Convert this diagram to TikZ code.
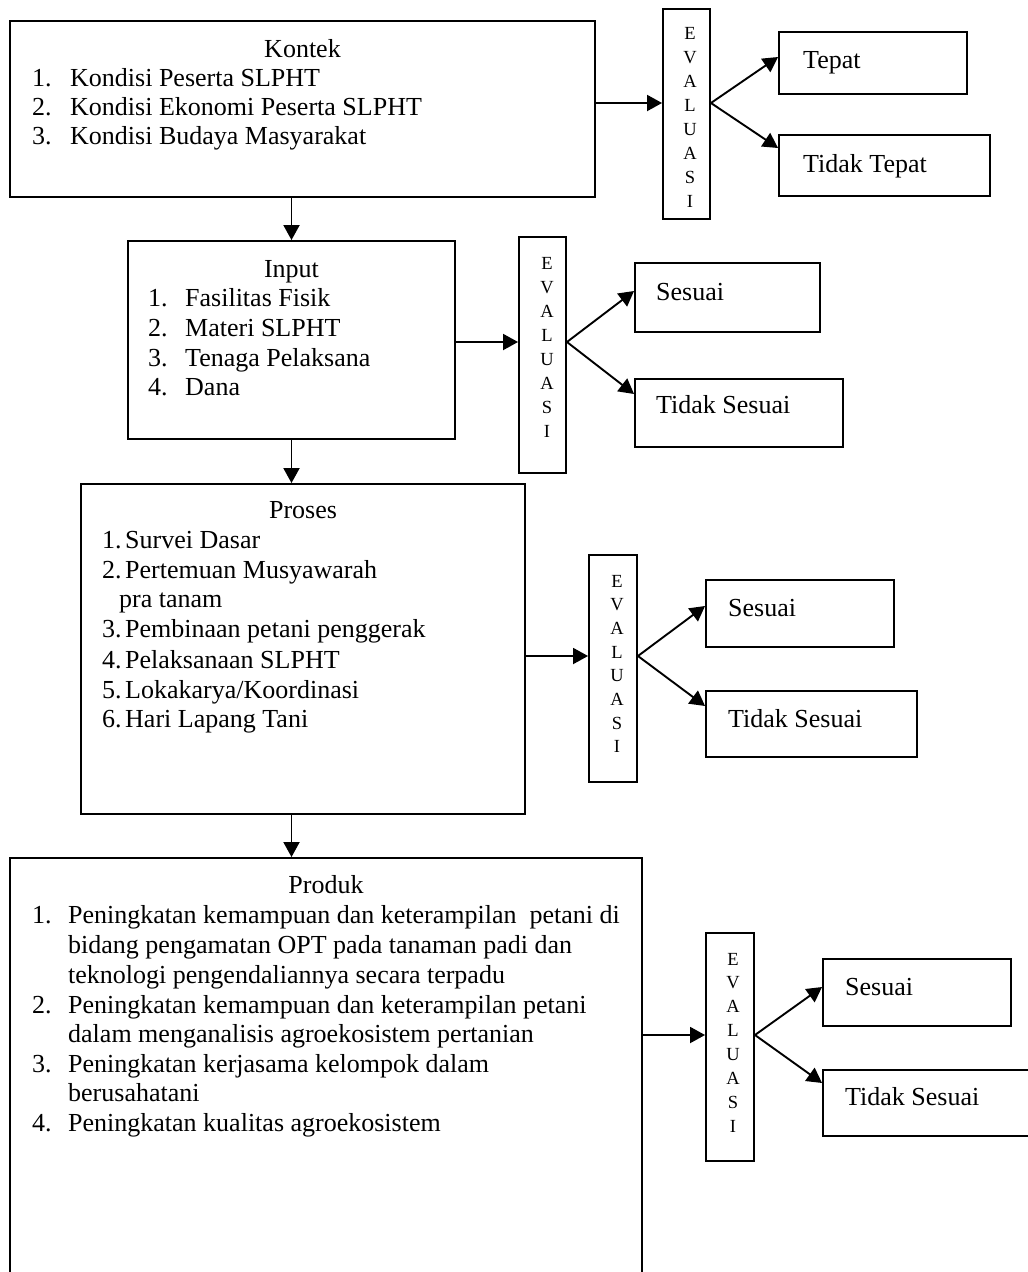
\documentclass[tikz,border=0pt]{standalone}
\usepackage{fontspec}
\setmainfont{Liberation Serif}
\usetikzlibrary{arrows.meta}
\begin{document}
\begin{tikzpicture}[x=1pt,y=-1pt,
  box/.style={draw,line width=1.9pt,inner sep=0pt,rectangle},
  txt/.style={inner sep=0pt,anchor=base west,font=\fontsize{26}{30}\selectfont},
  ttl/.style={inner sep=0pt,anchor=base,font=\fontsize{26}{30}\selectfont},
  evl/.style={inner sep=0pt,anchor=base,font=\fontsize{18.5}{24}\selectfont},
  arr/.style={line width=1.9pt,-{Triangle[length=15pt,width=16pt]}}]
\useasboundingbox (0,0) rectangle (1028,1272);
% boxes
\node[box,minimum width=585pt,minimum height=176pt] (kontek) at (302.5,109) {};
\node[box,minimum width=47pt,minimum height=210pt] (eval1) at (686.5,114) {};
\node[box,minimum width=188pt,minimum height=62pt] (tepat) at (873,63) {};
\node[box,minimum width=211pt,minimum height=61pt] (tidaktepat) at (884.5,165.5) {};
\node[box,minimum width=327pt,minimum height=198pt] (input) at (291.5,340) {};
\node[box,minimum width=47pt,minimum height=236pt] (eval2) at (542.5,355) {};
\node[box,minimum width=185pt,minimum height=69pt] (sesuai2) at (727.5,297.5) {};
\node[box,minimum width=208pt,minimum height=68pt] (tsesuai2) at (739,413) {};
\node[box,minimum width=444pt,minimum height=330pt] (proses) at (303,649) {};
\node[box,minimum width=48pt,minimum height=227pt] (eval3) at (613,668.5) {};
\node[box,minimum width=188pt,minimum height=67pt] (sesuai3) at (800,613.5) {};
\node[box,minimum width=211pt,minimum height=66pt] (tsesuai3) at (811.5,724) {};
\node[box,minimum width=632pt,minimum height=422pt] (produk) at (326,1069) {};
\node[box,minimum width=48pt,minimum height=228pt] (eval4) at (730,1047) {};
\node[box,minimum width=188pt,minimum height=67pt] (sesuai4) at (917,992.5) {};
\node[box,minimum width=217pt,minimum height=66pt] (tsesuai4) at (931.5,1103) {};
% EVALUASI letters
\foreach \l [count=\i from 0] in {E,V,A,L,U,A,S,I} {
  \node[evl] (ea\i) at (690,39+24.1*\i) {\l};
  \node[evl] (eb\i) at (547,269+24.1*\i) {\l};
  \node[evl] (ec\i) at (617,587+23.7*\i) {\l};
  \node[evl] (ed\i) at (733,965+23.9*\i) {\l};
}
% Kontek text
\node[ttl] (kt) at (302.5,57) {Kontek};
\foreach \n/\t/\y in {1/Kondisi Peserta SLPHT/86, 2/Kondisi Ekonomi Peserta SLPHT/115, 3/Kondisi Budaya Masyarakat/144} {
  \node[txt] (kn\n) at (32,\y) {\n.};
  \node[txt] (kx\n) at (70,\y) {\t};
}
% Input text
\node[ttl] (it) at (291.5,277) {Input};
\foreach \n/\t/\y in {1/Fasilitas Fisik/306, 2/Materi SLPHT/336, 3/Tenaga Pelaksana/366, 4/Dana/395} {
  \node[txt] (in\n) at (148,\y) {\n.};
  \node[txt] (ix\n) at (185,\y) {\t};
}
% Proses text
\node[ttl] (pt) at (303,518) {Proses};
\foreach \n/\t/\y in {1/Survei Dasar/548, 2/Pertemuan Musyawarah/578, 3/Pembinaan petani penggerak/637, 4/Pelaksanaan SLPHT/668, 5/Lokakarya\slash Koordinasi/698, 6/Hari Lapang Tani/727} {
  \node[txt] (pn\n) at (102,\y) {\n.};
  \node[txt] (px\n) at (125,\y) {\t};
}
\node[txt] (px2b) at (119,607) {pra tanam};
% Produk text
\node[ttl] (rt) at (326,893) {Produk};
\node[txt] (rn1) at (32,923) {1.};
\node[txt] (rx1) at (68,923) {Peningkatan kemampuan dan keterampilan \ petani di};
\node[txt] (rx1b) at (68,953) {bidang pengamatan OPT pada tanaman padi dan};
\node[txt] (rx1c) at (68,983) {teknologi pengendaliannya secara terpadu};
\node[txt] (rn2) at (32,1013) {2.};
\node[txt] (rx2) at (68,1013) {Peningkatan kemampuan dan keterampilan petani};
\node[txt] (rx2b) at (68,1042) {dalam menganalisis agroekosistem pertanian};
\node[txt] (rn3) at (32,1072) {3.};
\node[txt] (rx3) at (68,1072) {Peningkatan kerjasama kelompok dalam};
\node[txt] (rx3b) at (68,1101) {berusahatani};
\node[txt] (rn4) at (32,1131) {4.};
\node[txt] (rx4) at (68,1131) {Peningkatan kualitas agroekosistem};
% result texts
\node[txt] (lt1) at (803,68) {Tepat};
\node[txt] (lt2) at (803,172) {Tidak Tepat};
\node[txt] (ls2) at (656,300) {Sesuai};
\node[txt] (lts2) at (656,413) {Tidak Sesuai};
\node[txt] (ls3) at (728,616) {Sesuai};
\node[txt] (lts3) at (728,727) {Tidak Sesuai};
\node[txt] (ls4) at (845,995) {Sesuai};
\node[txt] (lts4) at (845,1105) {Tidak Sesuai};
% vertical arrows
\draw[arr] (kontek.south -| input.north) -- (input.north);
\draw[arr] (input.south) -- (input.south |- proses.north);
\draw[arr] (input.south |- proses.south) -- (input.south |- produk.north);
% to evaluation
\draw[arr] ([yshift=6pt]kontek.east) -- ([yshift=6pt]kontek.east -| eval1.west);
\draw[arr] ([yshift=11pt]eval1.east) -- ([yshift=6pt]tepat.west);
\draw[arr] ([yshift=11pt]eval1.east) -- ([yshift=17.5pt]tidaktepat.west);
\draw[arr] ([yshift=-2pt]input.east) -- ([yshift=-2pt]input.east -| eval2.west);
\draw[arr] ([yshift=13pt]eval2.east) -- ([yshift=6.5pt]sesuai2.west);
\draw[arr] ([yshift=13pt]eval2.east) -- ([yshift=19pt]tsesuai2.west);
\draw[arr] ([yshift=-7pt]proses.east) -- ([yshift=-7pt]proses.east -| eval3.west);
\draw[arr] ([yshift=12.5pt]eval3.east) -- ([yshift=7.5pt]sesuai3.west);
\draw[arr] ([yshift=12.5pt]eval3.east) -- ([yshift=18pt]tsesuai3.west);
\draw[arr] ([yshift=34pt]produk.east) -- ([yshift=34pt]produk.east -| eval4.west);
\draw[arr] ([yshift=12pt]eval4.east) -- ([yshift=5.5pt]sesuai4.west);
\draw[arr] ([yshift=12pt]eval4.east) -- ([yshift=20pt]tsesuai4.west);
\end{tikzpicture}
\end{document}
